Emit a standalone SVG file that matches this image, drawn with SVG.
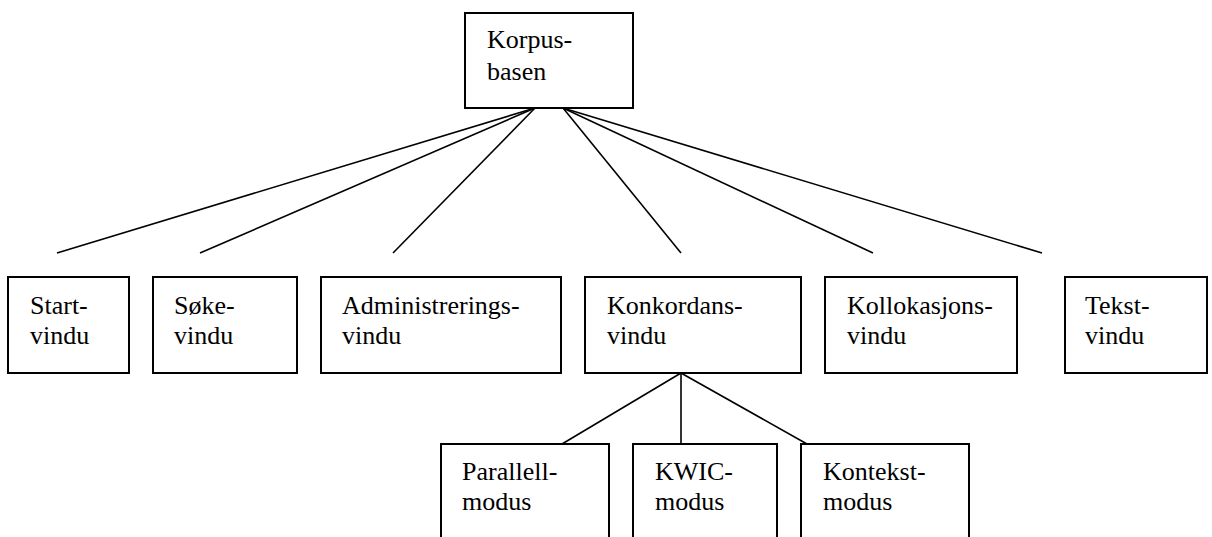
<svg xmlns="http://www.w3.org/2000/svg" width="1212" height="537" viewBox="0 0 1212 537">
<style>
.box{fill:#fff;stroke:#000;stroke-width:2}
.lbl{font-family:'Liberation Serif','Times New Roman',Times,'DejaVu Serif',serif;font-size:26px;fill:#000}
.conn line{stroke:#000;stroke-width:1.6}
</style>
<rect width="1212" height="537" fill="#fff"/>
<g id="connectors" class="conn">
<line x1="535" y1="108" x2="57" y2="253"/>
<line x1="535" y1="108" x2="200" y2="253"/>
<line x1="535" y1="108" x2="393" y2="253"/>
<line x1="563" y1="108" x2="681" y2="253"/>
<line x1="563" y1="108" x2="873" y2="253"/>
<line x1="563" y1="108" x2="1042" y2="253"/>
<line x1="681" y1="373" x2="562" y2="444"/>
<line x1="681" y1="373" x2="681" y2="444"/>
<line x1="681" y1="373" x2="807" y2="444"/>
</g>
<g id="korpusbasen"><rect class="box" x="465" y="13" width="168" height="95"/><text class="lbl" x="487" y="48">Korpus-</text><text class="lbl" x="487" y="80">basen</text></g>
<g id="startvindu"><rect class="box" x="8" y="277" width="121" height="96"/><text class="lbl" x="30" y="314">Start-</text><text class="lbl" x="30" y="344">vindu</text></g>
<g id="sokevindu"><rect class="box" x="153" y="277" width="144" height="96"/><text class="lbl" x="174" y="314">Søke-</text><text class="lbl" x="174" y="344">vindu</text></g>
<g id="administreringsvindu"><rect class="box" x="321" y="277" width="240" height="96"/><text class="lbl" x="342" y="314">Administrerings-</text><text class="lbl" x="342" y="344">vindu</text></g>
<g id="konkordansvindu"><rect class="box" x="585" y="277" width="216" height="96"/><text class="lbl" x="607" y="314">Konkordans-</text><text class="lbl" x="607" y="344">vindu</text></g>
<g id="kollokasjonsvindu"><rect class="box" x="825" y="277" width="192" height="96"/><text class="lbl" x="847" y="314">Kollokasjons-</text><text class="lbl" x="847" y="344">vindu</text></g>
<g id="tekstvindu"><rect class="box" x="1065" y="277" width="142" height="96"/><text class="lbl" x="1085" y="314">Tekst-</text><text class="lbl" x="1085" y="344">vindu</text></g>
<g id="parallellmodus"><rect class="box" x="441" y="444" width="168" height="110"/><text class="lbl" x="462" y="480">Parallell-</text><text class="lbl" x="462" y="510">modus</text></g>
<g id="kwicmodus"><rect class="box" x="633" y="444" width="144" height="110"/><text class="lbl" x="655" y="480">KWIC-</text><text class="lbl" x="655" y="510">modus</text></g>
<g id="kontekstmodus"><rect class="box" x="801" y="444" width="168" height="110"/><text class="lbl" x="823" y="480">Kontekst-</text><text class="lbl" x="823" y="510">modus</text></g>
</svg>
